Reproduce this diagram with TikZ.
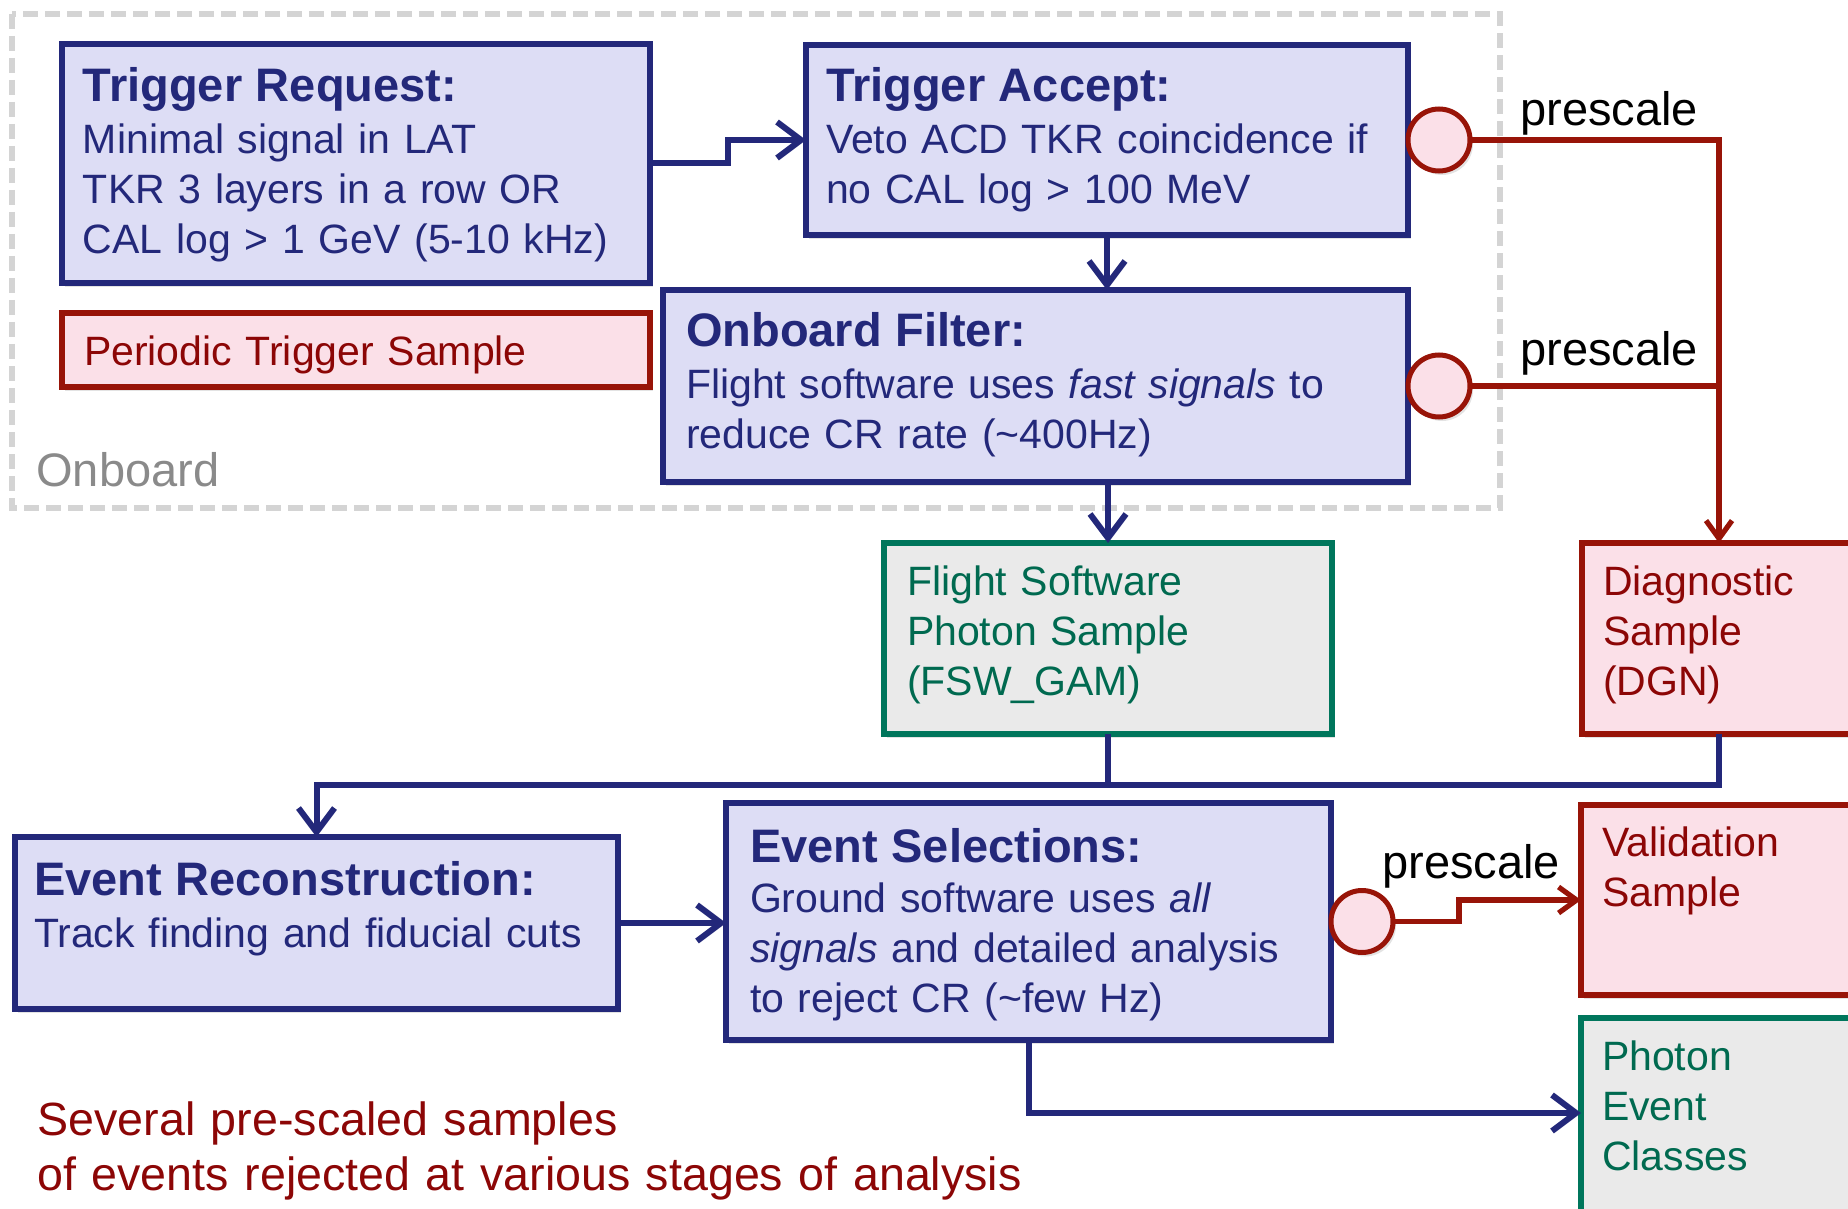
\documentclass[tikz,border=0pt]{standalone}
\usepackage{fontspec}
\setmainfont{Liberation Sans}
\usetikzlibrary{positioning,arrows.meta,shadows}

\definecolor{navy}{RGB}{35,40,122}
\definecolor{navyfill}{RGB}{221,221,245}
\definecolor{rust}{RGB}{152,20,8}
\definecolor{rustfill}{RGB}{251,224,232}
\definecolor{rusttext}{RGB}{140,6,6}
\definecolor{pine}{RGB}{0,118,92}
\definecolor{pinefill}{RGB}{234,234,234}
\definecolor{pinetext}{RGB}{0,106,80}
\definecolor{framegray}{RGB}{212,212,212}
\definecolor{labelgray}{RGB}{138,138,138}

\newcommand{\hd}[1]{{\fontsize{23.5}{27}\selectfont\bfseries #1}}

\tikzset{
	boxbase/.style={anchor=north west, align=left, inner ysep=0pt, outer sep=0pt,
		line width=2.75pt, font=\fontsize{20.5}{25}\selectfont,
		drop shadow={shadow xshift=1.5pt, shadow yshift=-2pt, opacity=0.22}},
	blk/.style={boxbase, draw=navy, fill=navyfill, text=navy},
	smp/.style={boxbase, draw=rust, fill=rustfill, text=rusttext},
	pht/.style={boxbase, draw=pine, fill=pinefill, text=pinetext},
	dims/.style n args={4}{inner xsep=#1, text width=#2, text height=#3, text depth=#4},
	gate/.style={circle, draw=rust, fill=rustfill, line width=2.5pt, minimum size=31pt,
		inner sep=0pt, outer sep=0pt,
		drop shadow={shadow xshift=1.5pt, shadow yshift=-2pt, opacity=0.22}},
	flow/.style={draw=navy, line width=3pt, -{Straight Barb[length=12pt,width=18pt]}},
	wire/.style={draw=navy, line width=3pt},
	rflow/.style={draw=rust, line width=2.6pt, -{Straight Barb[length=9pt,width=13pt]}},
	rwire/.style={draw=rust, line width=2.6pt},
	tag/.style={anchor=base west, font=\fontsize{23.5}{27}\selectfont, inner sep=0pt},
}

\begin{document}
\begin{tikzpicture}[x=0.5pt,y=-0.5pt]
			\useasboundingbox (0,0) rectangle (1848,1209);
			\clip (0,0) rectangle (1848,1209);
			\draw[framegray, line width=3pt, dash pattern=on 7.5pt off 3.5pt] (12,14) rectangle (1500,508);
			\node[tag, text=labelgray] (onb) at (36,486) {Onboard};
			\node[blk, dims={10.5pt}{273pt}{29pt}{90.5pt}] (req) at (62,44)
				{\hd{Trigger Request:}\\[1pt] Minimal signal in LAT\\ TKR 3 layers in a row OR\\ CAL log > 1 GeV (5-10 kHz)};
			\node[blk, dims={10pt}{281pt}{28.5pt}{66.5pt}] (acc) at (806,45)
				{\hd{Trigger Accept:}\\[1pt] Veto ACD TKR coincidence if\\ no CAL log > 100 MeV};
			\node[smp, dims={11pt}{272pt}{26pt}{11pt}] (per) at (62,313) {Periodic Trigger Sample};
			\node[blk, dims={11.5pt}{349.5pt}{28.5pt}{67.5pt}] (filt) at (663,290)
				{\hd{Onboard Filter:}\\[1pt] Flight software uses \textit{fast signals} to\\ reduce CR rate (\textasciitilde400Hz)};
			\node[pht, dims={11.5pt}{201pt}{26pt}{69.5pt}] (fsw) at (884,543)
				{Flight Software\\ Photon Sample\\ (FSW\_GAM)};
			\node[smp, dims={10.5pt}{116pt}{26pt}{69.5pt}] (dgn) at (1582,543)
				{Diagnostic\\ Sample\\ (DGN)};
			\node[blk, dims={9.5pt}{282.5pt}{29pt}{57pt}] (rec) at (15,837)
				{\hd{Event Reconstruction:}\\[1pt] Track finding and fiducial cuts};
			\node[blk, dims={12pt}{278.5pt}{29.5pt}{89pt}] (sel) at (726,803)
				{\hd{Event Selections:}\\ Ground software uses \textit{all}\\ \textit{signals} and detailed analysis\\ to reject CR (\textasciitilde few Hz)};
			\node[smp, dims={10.5pt}{116.5pt}{25.5pt}{69.5pt}] (val) at (1581,805)
				{Validation\\ Sample};
			\node[pht, dims={10.5pt}{116.5pt}{26pt}{85pt}] (pec) at (1581,1018)
				{Photon\\ Event\\ Classes};
			\node[gate, right=0pt of acc] (g1) {};
			\node[gate, right=0pt of filt] (g2) {};
			\node[gate, right=0pt of sel] (g3) {};
			\node[tag] (pre1) at (1520,126) {prescale};
			\node[tag] (pre2) at (1520,365) {prescale};
			\node[tag] (pre3) at (1382,878) {prescale};
			\node[anchor=base west, align=left, text width=520pt, inner sep=0pt, text=rusttext,
				font=\fontsize{23.3}{27.5}\selectfont] (note) at (37,1135)
				{Several pre-scaled samples\\ of events rejected at various stages of analysis};
			\coordinate (join) at ([yshift=-25.5pt]fsw.south);
			\draw[flow] (req.east) -- ++(39pt,0) |- (acc.west);
			\draw[flow] (acc.south) -- (acc.south |- filt.north);
			\draw[flow] (filt.south -| fsw.north) -- (fsw.north);
			\draw[flow] (fsw.south) -- (join) -| (rec.north);
			\draw[wire] (dgn.south) |- (join);
			\draw[flow] (rec.east) -- (rec.east -| sel.west);
			\draw[flow] (sel.south) |- ([yshift=-47.5pt]pec.north west);
			\draw[rflow] (g1.east) -| (dgn.north);
			\draw[rwire] (g2.east) -- (g2.east -| dgn.north);
			\draw[rflow] (g3.east) -- ++(33pt,0) |- (val.west);
\end{tikzpicture}
\end{document}
